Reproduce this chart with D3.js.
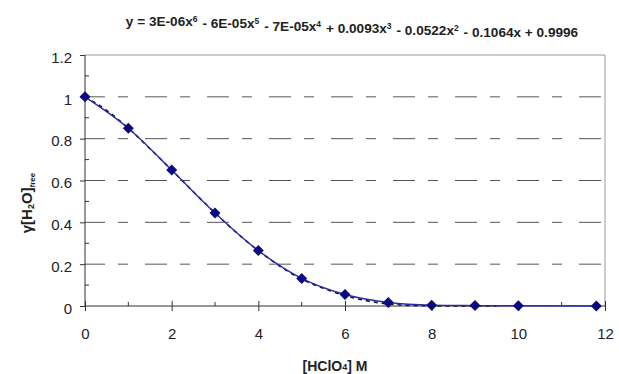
<!DOCTYPE html>
<html>
<head>
<meta charset="utf-8">
<script src="https://cdn.jsdelivr.net/npm/d3@7"></script>
<style>
  body { margin: 0; background: #fff; }
  text { font-family: "Liberation Sans", Arial, sans-serif; }
</style>
</head>
<body>
<div class="chart"></div>
<script>
// data
var acidM = [0, 1, 2, 3, 4, 5, 6, 7, 8, 9, 10, 11.8];
var gammaFree = [1.0, 0.85, 0.65, 0.445, 0.265, 0.132, 0.055, 0.017, 0.004, 0.002, 0.001, 0.0];

// polynomial trend line
var trendX = [0, 0.5, 1, 1.5, 2, 2.5, 3, 3.5, 4, 4.5, 5, 5.5, 6, 6.5, 7, 7.5, 8, 8.5, 9, 9.5];
var trendY = [1.0, 0.935, 0.85, 0.752, 0.65, 0.546, 0.445, 0.35, 0.265, 0.19, 0.128, 0.085, 0.05, 0.025, 0.01, 0.003, 0.001, 0.0, 0.0, 0.0];

var xTicks = [0, 2, 4, 6, 8, 10, 12];
var yTicks = [0, 0.2, 0.4, 0.6, 0.8, 1, 1.2];

var equation = "y = 3E-06x6 - 6E-05x5 - 7E-05x4 + 0.0093x3 - 0.0522x2 - 0.1064x + 0.9996";

var margin = {top: 55, right: 14, bottom: 68, left: 85},
    width = 619 - margin.left - margin.right,
    height = 374 - margin.top - margin.bottom;

var svg = d3.select(".chart").append("svg")
    .attr("width", 619)
    .attr("height", 374);

var g = svg.append("g")
    .attr("transform", "translate(" + margin.left + "," + margin.top + ")");

var x = d3.scaleLinear().domain([0, 12]).range([0, width]);
var y = d3.scaleLinear().domain([0, 1.2]).range([height, 0]);

// dashed gridlines
g.selectAll(".grid")
    .data(yTicks.filter(function(d){ return d > 0 && d < 1.2; }))
    .enter().append("line")
    .attr("class", "grid")
    .attr("x1", 0)
    .attr("x2", width)
    .attr("y1", function(d){ return y(d); })
    .attr("y2", function(d){ return y(d); })
    .attr("stroke", "#555")
    .attr("stroke-width", 1)
    .attr("stroke-dasharray", "22,13,10,17")
    .attr("stroke-dashoffset", 2);

// top and right frame
g.append("line")
    .attr("x1", 0).attr("x2", width)
    .attr("y1", 0).attr("y2", 0)
    .attr("stroke", "#999");
g.append("line")
    .attr("x1", width).attr("x2", width)
    .attr("y1", 0).attr("y2", height)
    .attr("stroke", "#999");

// minor ticks
var yMinor = d3.range(1, 12, 2).map(function(i){ return i / 10; });
g.selectAll(".yminor")
    .data(yMinor)
    .enter().append("line")
    .attr("x1", 0).attr("x2", 4)
    .attr("y1", function(d){ return y(d); })
    .attr("y2", function(d){ return y(d); })
    .attr("stroke", "#333");

var xMinor = [1, 3, 5, 7, 9, 11];
g.selectAll(".xminor")
    .data(xMinor)
    .enter().append("line")
    .attr("x1", function(d){ return x(d); })
    .attr("x2", function(d){ return x(d); })
    .attr("y1", height).attr("y2", height - 4)
    .attr("stroke", "#333");

var xAxis = d3.axisBottom(x)
    .tickValues(xTicks)
    .tickSize(5)
    .tickPadding(17);

var yAxis = d3.axisLeft(y)
    .tickValues(yTicks)
    .tickSize(5)
    .tickPadding(8)
    .tickFormat(function(d){ return d3.format("")(+d.toFixed(1)); });

var gx = g.append("g")
    .attr("transform", "translate(0," + height + ")")
    .call(xAxis);
gx.select(".domain").attr("stroke", "#333").attr("d", "M0,0H" + width);
gx.selectAll(".tick line").attr("stroke", "#333").attr("y1", -5);
gx.selectAll("text")
    .style("font-size", "15px")
    .attr("fill", "#222");

var gy = g.append("g").call(yAxis);
gy.select(".domain").attr("stroke", "#333").attr("d", "M0," + height + "V0");
gy.selectAll(".tick line").attr("stroke", "#333");
gy.selectAll("text")
    .style("font-size", "15px")
    .attr("fill", "#222")
    .attr("dy", "0.48em");

// trend line
var trend = trendX.map(function(d, i){ return [d, trendY[i]]; });
g.append("path")
    .datum(trend)
    .attr("fill", "none")
    .attr("stroke", "#111")
    .attr("stroke-width", 1.6)
    .attr("stroke-dasharray", "4,4")
    .attr("d", d3.line()
        .x(function(d){ return x(d[0]); })
        .y(function(d){ return y(d[1]); })
        .curve(d3.curveMonotoneX));

// data line
var pts = acidM.map(function(d, i){ return [d, gammaFree[i]]; });
g.append("path")
    .datum(pts)
    .attr("fill", "none")
    .attr("stroke", "#2a2aa8")
    .attr("stroke-width", 1.4)
    .attr("d", d3.line()
        .x(function(d){ return x(d[0]); })
        .y(function(d){ return y(d[1]); })
        .curve(d3.curveMonotoneX));

g.selectAll(".point")
    .data(pts)
    .enter().append("path")
    .attr("class", "point")
    .attr("d", "M0,-5.5L5.5,0L0,5.5L-5.5,0Z")
    .attr("transform", function(d){ return "translate(" + x(d[0]) + "," + y(d[1]) + ")"; })
    .attr("fill", "#0a0a80");

// equation title with superscripts
var title = svg.append("text")
    .attr("x", 352)
    .attr("y", 26)
    .attr("text-anchor", "middle")
    .style("font-size", "13.6px")
    .style("font-weight", "bold")
    .attr("fill", "#222");
var parts = equation.split(/(x\d)/);
parts.forEach(function(p){
    if (/^x\d$/.test(p)) {
        title.append("tspan").text("x");
        title.append("tspan").text(p[1])
            .attr("dy", "-0.45em").style("font-size", "8.5px");
        title.append("tspan").text("\u200a").attr("dy", "0.45em");
    } else {
        title.append("tspan").text(p);
    }
});

// x axis title
var xt = svg.append("text")
    .attr("x", 335)
    .attr("y", 371)
    .attr("text-anchor", "middle")
    .style("font-size", "14px")
    .style("font-weight", "bold")
    .attr("fill", "#222");
xt.append("tspan").text("[HClO");
xt.append("tspan").text("4").style("font-size", "9px").attr("dy", "-1");
xt.append("tspan").text("] M").attr("dy", "1");

// y axis title
var yt = svg.append("text")
    .attr("transform", "translate(32,203) rotate(-90)")
    .attr("text-anchor", "middle")
    .style("font-size", "15px")
    .style("font-weight", "bold")
    .attr("fill", "#222");
yt.append("tspan").text("\u03b3[H");
yt.append("tspan").text("2").style("font-size", "9px").attr("dy", "2");
yt.append("tspan").text("O]").attr("dy", "-2");
yt.append("tspan").text("free").style("font-size", "8px").attr("dy", "3");
</script>
</body>
</html>
